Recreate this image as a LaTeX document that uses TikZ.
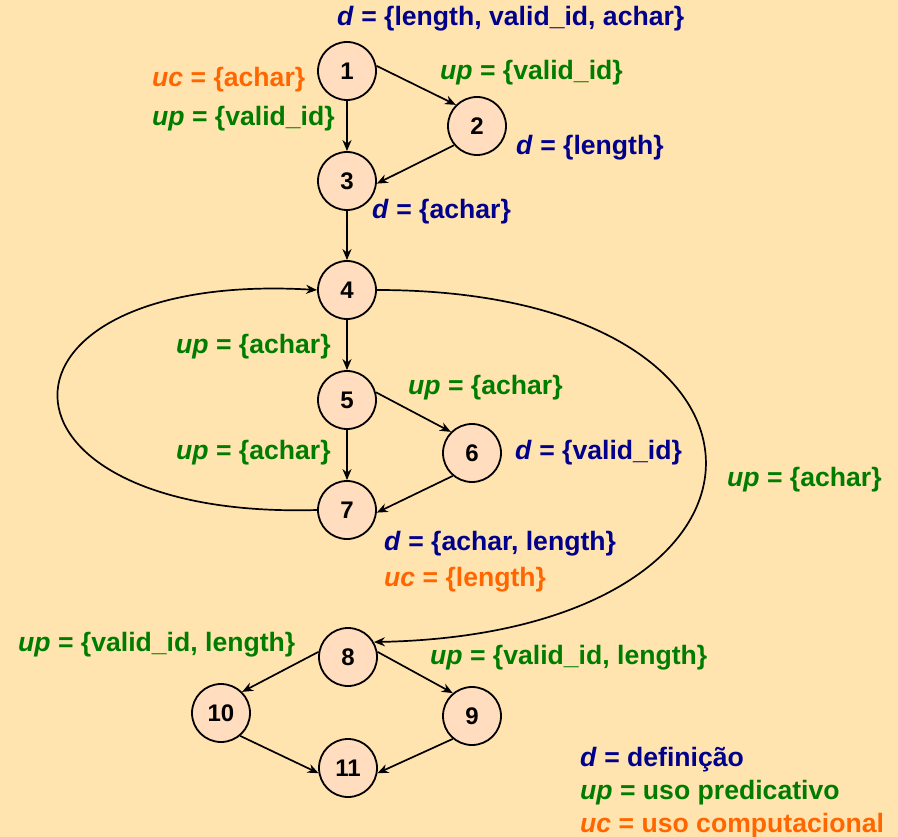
\documentclass[tikz,border=0pt]{standalone}
\usepackage{fontspec}
\setmainfont{Liberation Sans}
\usetikzlibrary{arrows.meta}
\definecolor{bgpeach}{RGB}{255,228,176}
\definecolor{nodepeach}{RGB}{255,221,190}
\definecolor{defblue}{RGB}{0,0,140}
\definecolor{upgreen}{RGB}{0,125,0}
\definecolor{ucorange}{RGB}{255,102,0}

\begin{document}
\begin{tikzpicture}[x=1pt,y=-1pt,
  vtx/.style={circle,draw,line width=1.8pt,fill=nodepeach,minimum size=58pt,inner sep=0pt,
    font=\fontsize{24pt}{24pt}\selectfont\bfseries},
  edge/.style={-{Stealth[length=11pt,width=9pt]},line width=1.7pt},
  lbl/.style={anchor=west,inner sep=0pt,font=\fontsize{26.6pt}{30pt}\selectfont\bfseries},
  dlbl/.style={lbl,text=defblue},
  uplbl/.style={lbl,text=upgreen},
  uclbl/.style={lbl,text=ucorange}]
 \fill[bgpeach] (0,0) rectangle (898,837);
 \useasboundingbox (0,0) rectangle (898,837);

 % vertices
 \node[vtx] (n1) at (347,71) {1};
 \node[vtx] (n2) at (477,126) {2};
 \node[vtx] (n3) at (347,181) {3};
 \node[vtx] (n4) at (347,290) {4};
 \node[vtx] (n5) at (347,400) {5};
 \node[vtx] (n6) at (472,453) {6};
 \node[vtx] (n7) at (347,510) {7};
 \node[vtx] (n8) at (348,657) {8};
 \node[vtx] (n9) at (472,716) {9};
 \node[vtx] (n10) at (221,713) {10};
 \node[vtx] (n11) at (348,768) {11};

 % edges
 \draw[edge] (n1.10) -- (n2.135);
 \draw[edge] (n1) -- (n3);
 \draw[edge] (n2.220) -- (n3.355);
 \draw[edge] (n3) -- (n4);
 \draw[edge] (n4) -- (n5);
 \draw[edge] (n5.15) -- (n6.135);
 \draw[edge] (n5) -- (n7);
 \draw[edge] (n6.230) -- (n7.355);
 \draw[edge] (n7.west) .. controls (-28,520) and (-28,270) .. (n4.west);
 \draw[edge] (n4.east) .. controls (815,290) and (815,633) .. (n8.30);
 \draw[edge] (n8.170) -- (n10.45);
 \draw[edge] (n8.10) -- (n9.130);
 \draw[edge] (n10.310) -- (n11.190);
 \draw[edge] (n9.230) -- (n11.350);

 % sets
 \node[dlbl] (d1) at (337,19) {\textit{d} = \{length, valid\_id, achar\}};
 \node[uclbl] (c1) at (152,80) {\textit{uc} = \{achar\}};
 \node[uplbl] (p13) at (152,119) {\textit{up} = \{valid\_id\}};
 \node[uplbl] (p12) at (440,73) {\textit{up} = \{valid\_id\}};
 \node[dlbl] (d2) at (516,148) {\textit{d} = \{length\}};
 \node[dlbl] (d3) at (372,212) {\textit{d} = \{achar\}};
 \node[uplbl] (p45) at (176,347) {\textit{up} = \{achar\}};
 \node[uplbl] (p56) at (408,388) {\textit{up} = \{achar\}};
 \node[dlbl] (d6) at (515,453) {\textit{d} = \{valid\_id\}};
 \node[uplbl] (p57) at (176,453) {\textit{up} = \{achar\}};
 \node[uplbl] (p48) at (727,480) {\textit{up} = \{achar\}};
 \node[dlbl] (d7) at (384,544) {\textit{d} = \{achar, length\}};
 \node[uclbl] (c7) at (384,580) {\textit{uc} = \{length\}};
 \node[uplbl] (p810) at (18,645) {\textit{up} = \{valid\_id, length\}};
 \node[uplbl] (p89) at (430,658) {\textit{up} = \{valid\_id, length\}};

 % legend
 \node[dlbl] (kd) at (580,760) {\textit{d} = definição};
 \node[uplbl] (kp) at (580,793) {\textit{up} = uso predicativo};
 \node[uclbl] (kc) at (580,826) {\textit{uc} = uso computacional};
\end{tikzpicture}
\end{document}
